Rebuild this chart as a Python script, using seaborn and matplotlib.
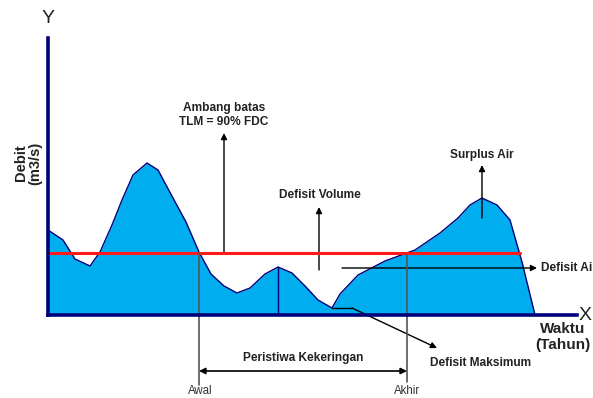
#%% imports
import numpy as np
import matplotlib.pyplot as plt
import seaborn as sns

#%% data (time along x, discharge along y)
waktu = [0, 15, 27, 42, 52, 64, 74, 85, 99, 110, 125, 138, 151, 163, 176, 189, 202,
         217, 230, 244, 257, 270, 284, 292, 310, 337, 367, 392, 410, 422, 434, 449,
         462, 474, 487]
debit = [85, 75, 56, 49, 63, 90, 115, 140, 152, 145, 117, 93, 63, 41, 29, 22, 27,
         41, 48, 42, 29, 15, 7, 21, 40, 54, 65, 82, 97, 110, 117, 110,
         95, 53, 0]
ambang = 62          # TLM = 90% FDC
ambang_end = 472
t_awal = 151
t_akhir = 359
t_puncak_defisit = 230
t_puncak_surplus = 434

colors = {
  'navy': '#00007a',
  'fill': '#00aeef',
  'red': '#ff1a1a',
  'gray': '#555555',
}

#%% style
sns.set_theme(style='white')
plt.rcParams['font.family'] = ['Liberation Sans', 'DejaVu Sans']

fig = plt.figure(figsize=(5.93, 3.98), dpi=100)
ax = fig.add_axes([48 / 593, 83 / 398, 529 / 593, 277 / 398])
ax.set_xlim(0, 529)
ax.set_ylim(0, 277)
ax.set_xticks([])
ax.set_yticks([])
sns.despine(ax=ax)
for side in ['left', 'bottom']:
  ax.spines[side].set_color(colors['navy'])
  ax.spines[side].set_linewidth(2.6)
  ax.spines[side].set_zorder(6)

#%% hydrograph
ax.fill_between(waktu, debit, 0, color=colors['fill'], zorder=1, lw=0)
sns.lineplot(x=waktu, y=debit, sort=False, estimator=None, color=colors['navy'],
             lw=1.0, ax=ax, zorder=2)

# threshold line
sns.lineplot(x=[0, ambang_end], y=[ambang, ambang], color=colors['red'], lw=2.2,
             ax=ax, zorder=4)

# peak lines
q_def = debit[waktu.index(t_puncak_defisit)]
ax.plot([t_puncak_defisit, t_puncak_defisit], [0, q_def], color=colors['navy'], lw=1.0, zorder=3)

#%% annotations
arrow = dict(arrowstyle='-|>', color='black', lw=1.0, mutation_scale=9, shrinkA=0, shrinkB=0)
small = dict(fontsize=8.6, fontweight='bold', color='#222222')

# Ambang batas
ax.annotate('', xy=(176, 182), xytext=(176, ambang), arrowprops=arrow, annotation_clip=False)
ax.text(176, 200, 'Ambang batas\nTLM = 90% FDC', ha='center', va='center',
        linespacing=1.15, **small)

# Defisit Volume
ax.annotate('', xy=(271, 108), xytext=(271, 45), arrowprops=arrow)
ax.text(272, 120, 'Defisit Volume', ha='center', va='center', **small)

# Surplus Air
ax.annotate('', xy=(t_puncak_surplus, 150), xytext=(t_puncak_surplus, 97), arrowprops=arrow)
ax.text(t_puncak_surplus, 160, 'Surplus Air', ha='center', va='center', **small)

# Defisit Air
ax.annotate('', xy=(489, 47), xytext=(294, 47), arrowprops=arrow, annotation_clip=False)
ax.text(493, 47, 'Defisit Ai', ha='left', va='center', clip_on=False, **small)

# Defisit Maksimum
ax.plot([284, 304], [7, 7], color='black', lw=1.0, zorder=5)
ax.annotate('', xy=(389, -33), xytext=(304, 7), arrowprops=arrow, annotation_clip=False)
ax.text(382, -48, 'Defisit Maksimum', ha='left', va='center', clip_on=False, **small)

# Awal / Akhir
ax.plot([t_awal, t_awal], [ambang, -70], color=colors['gray'], lw=1.2, clip_on=False, zorder=5)
ax.plot([t_akhir, t_akhir], [ambang - 2, -67], color=colors['gray'], lw=1.2, clip_on=False, zorder=5)
ax.text(t_awal + 1, -76, 'Awal', ha='center', va='center', fontsize=8.3, color='#333333')
ax.text(t_akhir, -76, 'Akhir', ha='center', va='center', fontsize=8.3, color='#333333')

# Peristiwa Kekeringan
ax.annotate('', xy=(t_awal, -56), xytext=(t_akhir, -56),
            arrowprops=dict(arrowstyle='<|-|>', color='black', lw=1.2, mutation_scale=9,
                            shrinkA=0, shrinkB=0), annotation_clip=False)
ax.text((t_awal + t_akhir) / 2, -43, 'Peristiwa Kekeringan', ha='center', va='center', **small)

#%% axis labels
ax.text(0, 297, 'Y', ha='center', va='center', fontsize=14, color='#222222', clip_on=False)
ax.text(537, 0, 'X', ha='center', va='center', fontsize=14, color='#222222', clip_on=False)
ax.text(515, -22, 'Waktu\n(Tahun)', ha='center', va='center', fontsize=11,
        fontweight='bold', color='#222222', linespacing=1.1, clip_on=False)
ax.text(-20, 152, 'Debit\n(m3/s)', ha='center', va='center', rotation=90, fontsize=10.5,
        fontweight='bold', color='#222222', linespacing=1.05, clip_on=False)

plt.savefig('out.png', dpi=100)
